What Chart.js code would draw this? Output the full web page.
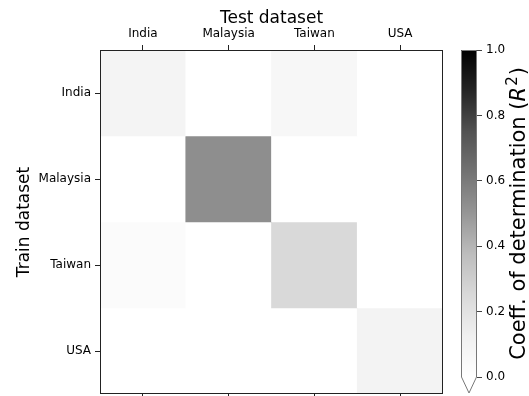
<!DOCTYPE html>
<html>
<head>
<meta charset="utf-8">
<script src="https://cdn.jsdelivr.net/npm/chart.js@4.4.1/dist/chart.umd.min.js"></script>
<style>
  body { margin: 0; background: #fff; }
  #wrap { position: relative; width: 529px; height: 396px; }
  #heatCanvas { position: absolute; left: 0; top: 0; }
  #barCanvas { position: absolute; left: 455px; top: 0; }
</style>
</head>
<body>
<div id="wrap">
  <canvas id="heatCanvas" width="529" height="396"></canvas>
  <canvas id="barCanvas" width="74" height="396"></canvas>
</div>
<script>
// Labels
const testNames = ['India', 'Malaysia', 'Taiwan', 'USA'];
const trainNames = ['India', 'Malaysia', 'Taiwan', 'USA'];

// R^2 per train row (test columns in the same order); below 0 shows as white
const rowIndia = [0.09, -0.5, 0.07, -0.5];
const rowMalaysia = [-0.5, 0.53, -0.5, -0.5];
const rowTaiwan = [0.03, -0.5, 0.25, -0.5];
const rowUSA = [-0.5, -0.5, -0.5, 0.10];
const r2Rows = [rowIndia, rowMalaysia, rowTaiwan, rowUSA];

const colorbarTicks = [0, 0.2, 0.4, 0.6, 0.8, 1.0];

// matplotlib "Greys" stops
const greyStops = [
    [0.0, 255], [0.125, 240], [0.25, 217], [0.375, 189],
    [0.5, 150], [0.625, 115], [0.75, 82], [0.875, 37], [1.0, 0]
];

function toGrey(v) {
    if (v <= 0) return 'rgb(255,255,255)';
    if (v >= 1) return 'rgb(0,0,0)';
    for (let i = 1; i < greyStops.length; i++) {
        const [p1, c1] = greyStops[i];
        const [p0, c0] = greyStops[i - 1];
        if (v <= p1) {
            const c = Math.round(c0 + (c1 - c0) * (v - p0) / (p1 - p0));
            return `rgb(${c},${c},${c})`;
        }
    }
}

const FONT = 'DejaVu Sans';
Chart.defaults.font.family = FONT;
Chart.defaults.color = '#000';

// --- Heatmap ---
const frameBox = {
    id: 'frameBox',
    afterDraw(chart) {
        const { ctx, chartArea: a } = chart;
        ctx.save();
        ctx.strokeStyle = '#222';
        ctx.lineWidth = 1;
        ctx.strokeRect(a.left + 0.5, a.top + 0.5, a.right - a.left - 1, a.bottom - a.top - 1);
        ctx.restore();
    }
};

const tickGrid = {
    display: true, drawOnChartArea: false, drawTicks: true,
    tickLength: 5, color: '#222', offset: false
};

function fixSize(s, w, h) {
    if (w !== undefined) s.width = w;
    if (h !== undefined) s.height = h;
    s.paddingTop = 0; s.paddingBottom = 0;
    s.paddingLeft = 0; s.paddingRight = 0;
}

new Chart(document.getElementById('heatCanvas'), {
    type: 'bar',
    data: {
        labels: testNames,
        datasets: r2Rows.map((row, i) => ({
            label: trainNames[i],
            data: row.map(() => [i, i + 1]),
            backgroundColor: row.map(toGrey),
            borderWidth: 0,
            barPercentage: 1,
            categoryPercentage: 1,
            grouped: false,
            xAxisID: 'x'
        }))
    },
    options: {
        responsive: false,
        animation: false,
        layout: { padding: { left: 0, right: 86, top: 0, bottom: 0 } },
        plugins: { legend: { display: false }, tooltip: { enabled: false } },
        scales: {
            x: {
                type: 'category',
                position: 'top',
                offset: true,
                grid: tickGrid,
                border: { display: false },
                ticks: { font: { size: 12 }, padding: 4, maxRotation: 0 },
                title: { display: true, text: 'Test dataset', font: { size: 17 }, padding: { top: 8, bottom: 0 } },
                afterFit: s => fixSize(s, undefined, 50)
            },
            x2: {
                type: 'category',
                position: 'bottom',
                labels: testNames,
                offset: true,
                grid: { ...tickGrid, tickLength: 4 },
                border: { display: false },
                ticks: { display: false },
                afterFit: s => fixSize(s, undefined, 2)
            },
            y: {
                type: 'linear',
                min: 0,
                max: 4,
                reverse: true,
                grid: tickGrid,
                border: { display: false },
                afterBuildTicks: s => { s.ticks = [0.5, 1.5, 2.5, 3.5].map(v => ({ value: v })); },
                ticks: {
                    font: { size: 12 },
                    padding: 4,
                    callback: (v, i) => trainNames[i]
                },
                title: { display: true, text: 'Train dataset', font: { size: 17 }, padding: { top: 14, bottom: 0 } },
                afterFit: s => fixSize(s, 100)
            }
        }
    },
    plugins: [frameBox]
});

// --- Colorbar ---
const colorbarFill = {
    id: 'colorbarFill',
    beforeDatasetsDraw(chart) {
        const { ctx, chartArea: a } = chart;
        const grad = ctx.createLinearGradient(0, a.bottom, 0, a.top);
        greyStops.forEach(([p, c]) => grad.addColorStop(p, `rgb(${c},${c},${c})`));
        ctx.save();
        ctx.fillStyle = grad;
        ctx.fillRect(a.left, a.top, a.right - a.left, a.bottom - a.top);
        // outline with the "under" arrow
        ctx.beginPath();
        ctx.moveTo(a.left + 0.5, a.top + 0.5);
        ctx.lineTo(a.right - 0.5, a.top + 0.5);
        ctx.lineTo(a.right - 0.5, a.bottom);
        ctx.lineTo((a.left + a.right) / 2, a.bottom + 16);
        ctx.lineTo(a.left + 0.5, a.bottom);
        ctx.closePath();
        ctx.strokeStyle = '#777';
        ctx.lineWidth = 1;
        ctx.stroke();
        // colorbar label, reading bottom to top
        const cy = (a.top + a.bottom) / 2;
        ctx.translate(65, cy);
        ctx.rotate(-Math.PI / 2);
        ctx.fillStyle = '#000';
        ctx.textBaseline = 'middle';
        const parts = [
            { t: 'Coeff. of determination (', f: `21px ${FONT}` },
            { t: 'R', f: `italic 21px ${FONT}` },
            { t: '2', f: `15px ${FONT}`, up: -7, gap: 2 },
            { t: ')', f: `21px ${FONT}` }
        ];
        let w = 0;
        parts.forEach(p => { ctx.font = p.f; p.w = ctx.measureText(p.t).width; w += p.w + (p.gap || 0); });
        let x = -w / 2;
        parts.forEach(p => {
            ctx.font = p.f;
            ctx.fillText(p.t, x + (p.gap || 0) / 2, p.up || 0);
            x += p.w + (p.gap || 0);
        });
        ctx.restore();
    }
};

new Chart(document.getElementById('barCanvas'), {
    type: 'bar',
    data: { labels: [''], datasets: [{ data: [], backgroundColor: 'transparent' }] },
    options: {
        responsive: false,
        animation: false,
        layout: { padding: { left: 6, top: 50, bottom: 19, right: 0 } },
        plugins: { legend: { display: false }, tooltip: { enabled: false } },
        scales: {
            x: { display: false },
            y: {
                position: 'right',
                min: 0,
                max: 1,
                afterBuildTicks: s => { s.ticks = colorbarTicks.map(v => ({ value: v })); },
                grid: { drawOnChartArea: false, drawTicks: true, tickLength: 5, color: '#444' },
                border: { display: false },
                ticks: { font: { size: 12 }, padding: 4, callback: v => v.toFixed(1) },
                afterFit: s => fixSize(s, 52)
            }
        }
    },
    plugins: [colorbarFill]
});
</script>
</body>
</html>
